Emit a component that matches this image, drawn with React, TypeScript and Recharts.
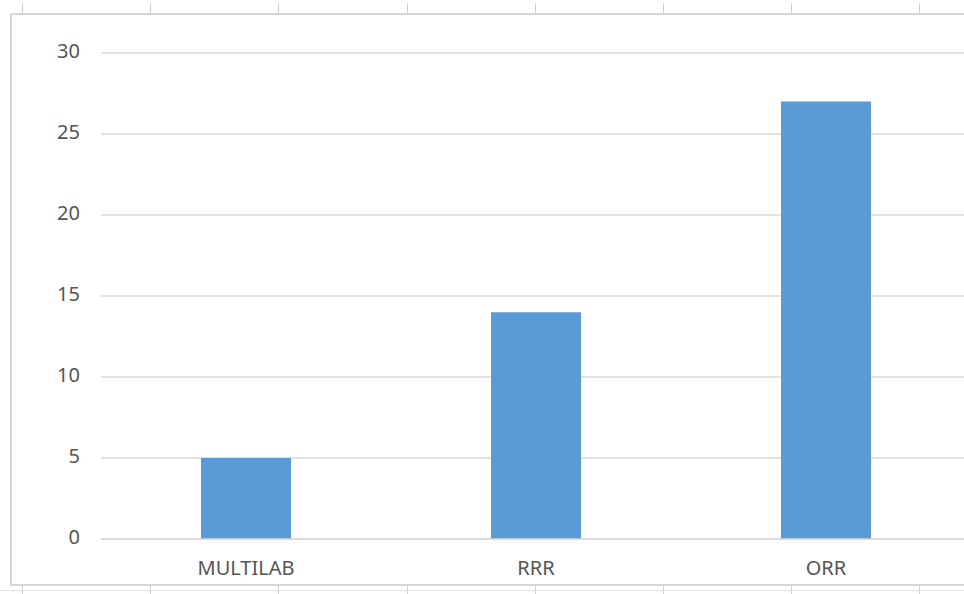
import React from "react";
import { BarChart, Bar, XAxis, YAxis, CartesianGrid } from "recharts";

const categories = ["MULTILAB", "RRR", "ORR"];
const values = [5, 14, 27];
const yTicks = [0, 5, 10, 15, 20, 25, 30];

const data = categories.map((name, i) => ({ name, value: values[i] }));

const cellTickXs = [22, 150, 278, 407, 535, 663, 791, 919];

const FONT = "'Noto Sans', 'Open Sans', sans-serif";
const LINE = "#d6d6d6";

export default function App() {
  return (
    <div
      style={{
        position: "absolute",
        left: 0,
        top: 0,
        width: 964,
        height: 594,
        overflow: "hidden",
        background: "#ffffff",
      }}
    >
      {/* spreadsheet cell ticks above and below the chart frame */}
      {cellTickXs.map((x) => (
        <div
          key={"t" + x}
          style={{ position: "absolute", left: x, top: 3, width: 1, height: 11, background: "#cfcfcf" }}
        />
      ))}
      {cellTickXs.map((x) => (
        <div
          key={"b" + x}
          style={{ position: "absolute", left: x, top: 585, width: 1, height: 9, background: "#cfcfcf" }}
        />
      ))}
      <div style={{ position: "absolute", left: 0, top: 590, width: 964, height: 1, background: "#e2e2e2" }} />
      {/* chart frame */}
      <div style={{ position: "absolute", left: 10, top: 13, width: 960, height: 2, background: LINE }} />
      <div style={{ position: "absolute", left: 10, top: 13, width: 2, height: 572, background: LINE }} />
      <div style={{ position: "absolute", left: 10, top: 584, width: 960, height: 2, background: LINE }} />

      <div style={{ position: "absolute", left: 0, top: 0 }}>
        <BarChart
          width={1000}
          height={594}
          data={data}
          margin={{ top: 53, right: 29, left: 0, bottom: 0 }}
        >
          <CartesianGrid vertical={false} stroke="#d9d9d9" strokeWidth={1.5} />
          <XAxis
            dataKey="name"
            height={55}
            tickLine={false}
            axisLine={{ stroke: "#d9d9d9", strokeWidth: 1.5 }}
            tickMargin={16}
            tick={{ fill: "#555555", fontSize: 20, fontFamily: FONT }}
          />
          <YAxis
            width={101}
            domain={[0, 30]}
            ticks={yTicks}
            tickLine={false}
            axisLine={false}
            tickMargin={15}
            tick={{ fill: "#555555", fontSize: 20, fontFamily: FONT, dy: -2 }}
          />
          <Bar dataKey="value" fill="#5b9bd5" barSize={90} isAnimationActive={false} />
        </BarChart>
      </div>
    </div>
  );
}
